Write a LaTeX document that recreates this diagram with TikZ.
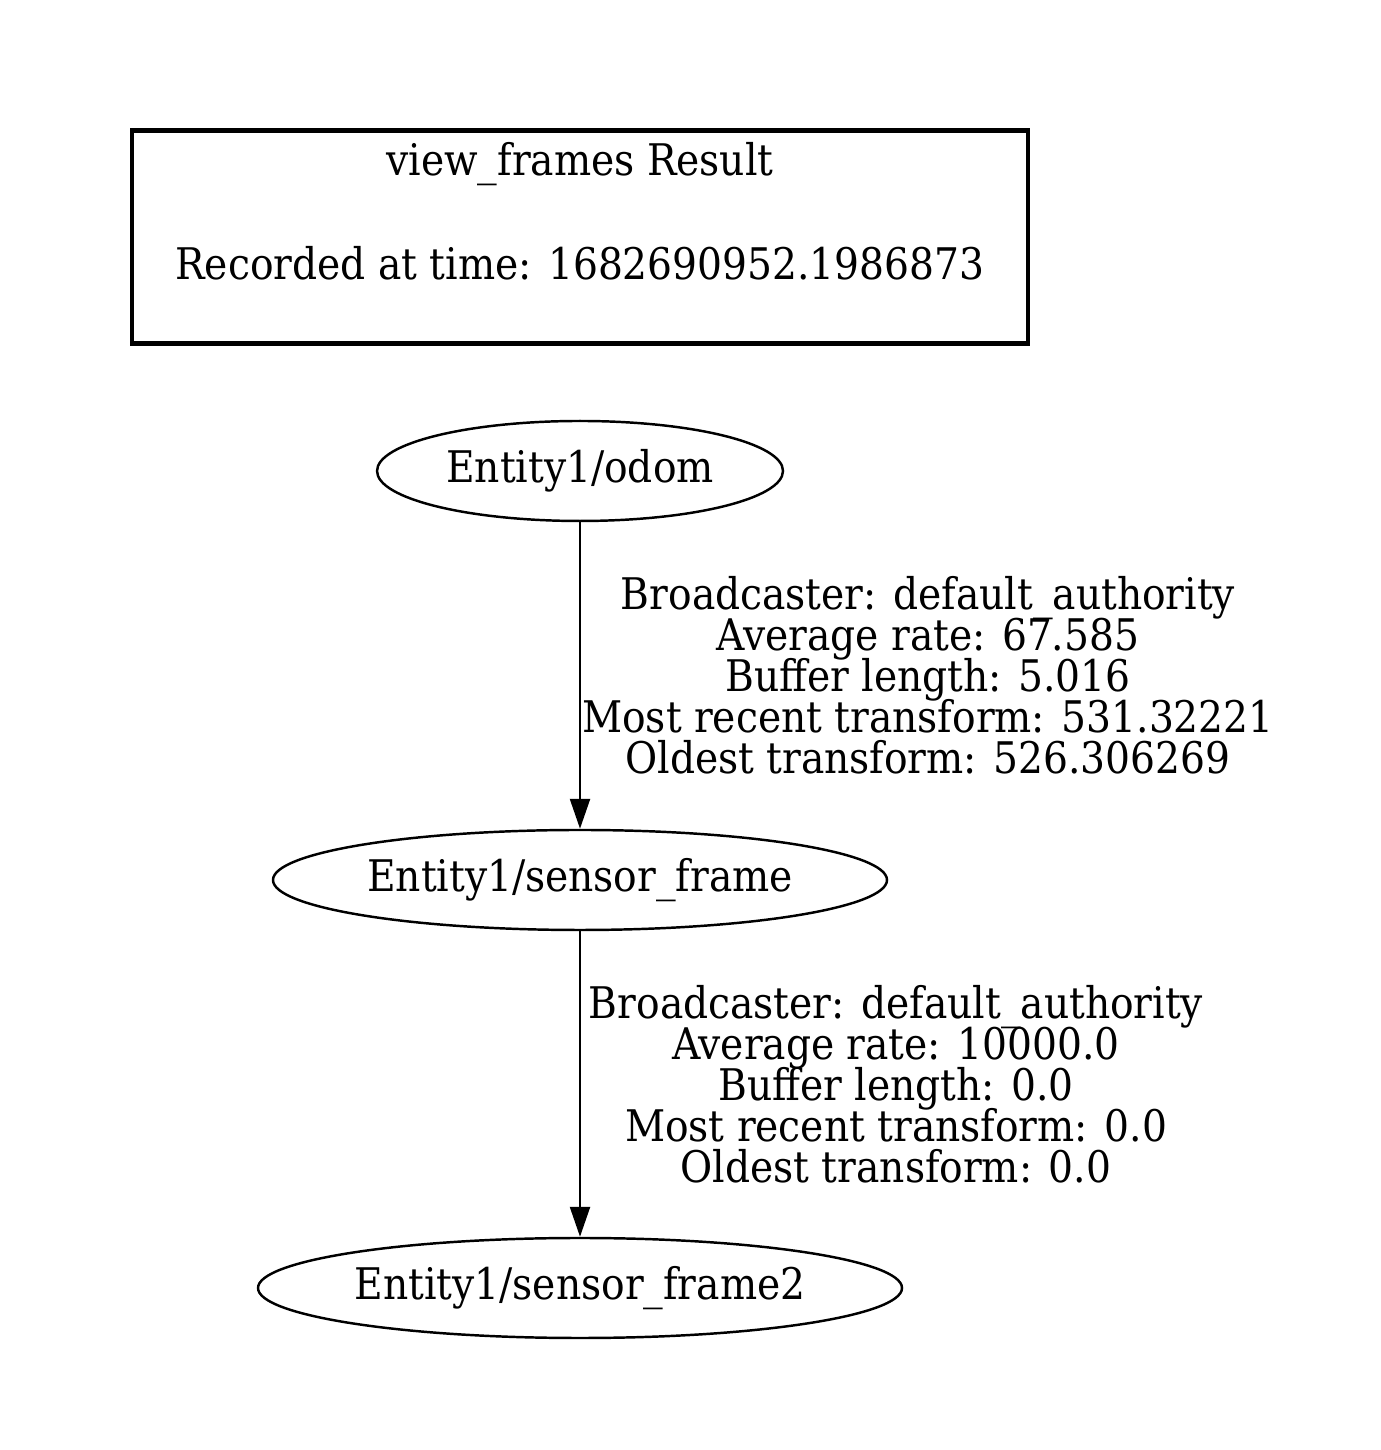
\documentclass[tikz,border=0pt]{standalone}
\usepackage{fontspec}
\setmainfont{DejaVu Serif Condensed}
\usepackage{tikz}
\usetikzlibrary{arrows.meta,shapes.geometric}
\setlength{\lineskiplimit}{-20pt}

\begin{document}
\begin{tikzpicture}
    \useasboundingbox (0,0) rectangle (13.81,14.50);

    \node[draw,line width=1.3pt,minimum width=8.96cm,minimum height=2.10cm,
      align=center,font=\fontsize{12.4}{14.8}\selectfont] (result) at (5.80,12.13)
      {view\_frames Result\\ \mbox{}\\ Recorded at time: 1682690952.1986873\\ \mbox{}};

    \begin{scope}[every node/.style={ellipse,draw,line width=0.7pt,inner sep=0pt,
        minimum height=1cm,font=\fontsize{12.4}{14.8}\selectfont}]
      \node[minimum width=4.06cm] (odom) at (5.80,9.79) {Entity1/odom};
      \node[minimum width=6.14cm] (sensor) at (5.80,5.70) {Entity1/sensor\_frame};
      \node[minimum width=6.44cm] (sensor2) at (5.80,1.62) {Entity1/sensor\_frame2};
    \end{scope}

    \begin{scope}[>={Triangle[length=0.3cm,width=0.2cm]},
        every node/.style={align=center,font=\fontsize{12.4}{11.67}\selectfont},
        every edge/.style={draw,line width=0.7pt}]
      \path [->] (odom) edge node[xshift=3.48cm] {Broadcaster: default\_authority\\
        Average rate: 67.585\\ Buffer length: 5.016\\
        Most recent transform: 531.32221\\ Oldest transform: 526.306269} (sensor);
      \path [->] (sensor) edge node[xshift=3.16cm] {Broadcaster: default\_authority\\
        Average rate: 10000.0\\ Buffer length: 0.0\\
        Most recent transform: 0.0\\ Oldest transform: 0.0} (sensor2);
    \end{scope}
\end{tikzpicture}
\end{document}
